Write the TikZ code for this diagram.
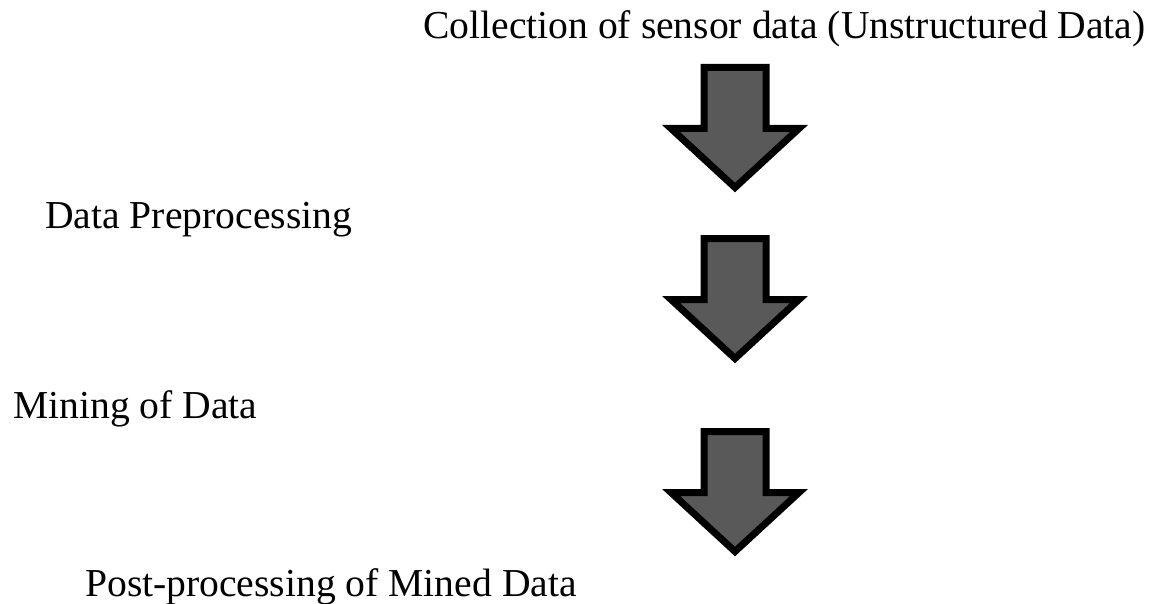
\documentclass[tikz,border=0pt]{standalone}
\usepackage{fontspec}
\setmainfont{Liberation Serif}
\usepackage{tikz}

\definecolor{arrowgray}{RGB}{89,89,89}

\begin{document}
\begin{tikzpicture}[x=1pt, y=-1pt,
        step label/.style={anchor=base west, inner sep=0pt, font=\fontsize{39.6}{46}\selectfont},
        blockarrow/.style={fill=arrowgray, draw=black, line width=7pt, line join=miter}]
        \useasboundingbox (0,0) rectangle (1156,604);
        \node[step label] (collect) at (423,39) {Collection of sensor data (Unstructured Data)};
        \node[step label] (preproc) at (45,229) {Data Preprocessing};
        \node[step label] (mining) at (13,418) {Mining of Data};
        \node[step label] (postproc) at (85,596) {Post-processing of Mined Data};
        % block arrows between the steps
        \foreach \t in {67.5, 238.5, 431.5} {
            \filldraw[blockarrow] (704,\t) -- (766,\t) -- (766,\t+61) -- (799,\t+61)
                -- (735,\t+120) -- (671,\t+61) -- (704,\t+61) -- cycle;
        }
    \end{tikzpicture}
\end{document}
